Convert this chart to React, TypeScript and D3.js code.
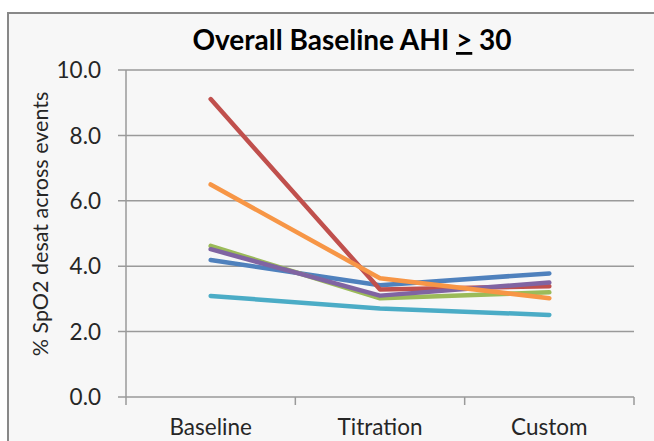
import React from "react";
import * as d3 from "d3";

const categories = ["Baseline", "Titration", "Custom"];
const yTicks = [0, 2, 4, 6, 8, 10];
const seriesNames = ["S1", "S2", "S3", "S4", "S5", "S6"];
const seriesColors = ["#4F81BD", "#C0504D", "#9BBB59", "#8064A2", "#4BACC6", "#F79646"];
const s1 = [4.19, 3.42, 3.78];
const s2 = [9.11, 3.29, 3.39];
const s3 = [4.62, 3.02, 3.2];
const s4 = [4.52, 3.1, 3.5];
const s5 = [3.09, 2.71, 2.51];
const s6 = [6.5, 3.63, 3.02];
const seriesValues = [s1, s2, s3, s4, s5, s6];

const W = 654;
const H = 441;
const FONT = "Lato, 'Open Sans', sans-serif";

export default function App() {
  const left = 126, right = 634, top = 70, bottom = 397;
  const x = d3.scaleBand<string>().domain(categories).range([left, right]);
  const y = d3.scaleLinear().domain([0, 10]).range([bottom, top]);
  const line = d3
    .line<number>()
    .x((_, i) => (x(categories[i]) as number) + x.bandwidth() / 2)
    .y((d) => y(d));
  const xTickPos = [left, ...categories.map((c) => (x(c) as number) + x.bandwidth())];

  return (
    <svg width={W} height={H} style={{ position: "absolute", left: 0, top: 0, background: "#ffffff" }}>
      <rect x={8} y={13} width={W + 10} height={H} fill="#f7f7f7" stroke="#888888" strokeWidth={2} />
      <text x={352} y={50} textAnchor="middle" fontFamily={FONT} fontWeight="bold" fontSize={28} fill="#000">
        Overall Baseline AHI <tspan textDecoration="underline">&gt;</tspan> 30
      </text>
      {yTicks.map((t) => (
        <g key={t}>
          <line x1={118} x2={right} y1={y(t)} y2={y(t)} stroke="#9a9a9a" strokeWidth={1.5} />
          <text x={101} y={y(t)} dy="0.36em" textAnchor="end" fontFamily={FONT} fontSize={22.5} fill="#262626">
            {t.toFixed(1)}
          </text>
        </g>
      ))}
      <line x1={left} x2={left} y1={top} y2={bottom} stroke="#9a9a9a" strokeWidth={1.5} />
      {xTickPos.map((p, i) => (
        <line key={i} x1={p} x2={p} y1={bottom} y2={bottom + 8} stroke="#9a9a9a" strokeWidth={1.5} />
      ))}
      {categories.map((c) => (
        <text key={c} x={(x(c) as number) + x.bandwidth() / 2} y={435} textAnchor="middle" fontFamily={FONT} fontSize={22.5} fill="#262626">
          {c}
        </text>
      ))}
      <text
        transform={`translate(40, ${224}) rotate(-90)`}
        textAnchor="middle"
        dy="0.35em"
        fontFamily={FONT}
        fontSize={21.5}
        fill="#262626"
      >
        % SpO2 desat across events
      </text>
      {seriesValues.map((vals, i) => (
        <path
          key={seriesNames[i]}
          d={line(vals) as string}
          fill="none"
          stroke={seriesColors[i]}
          strokeWidth={4.5}
          strokeLinecap="round"
          strokeLinejoin="round"
        />
      ))}
    </svg>
  );
}
